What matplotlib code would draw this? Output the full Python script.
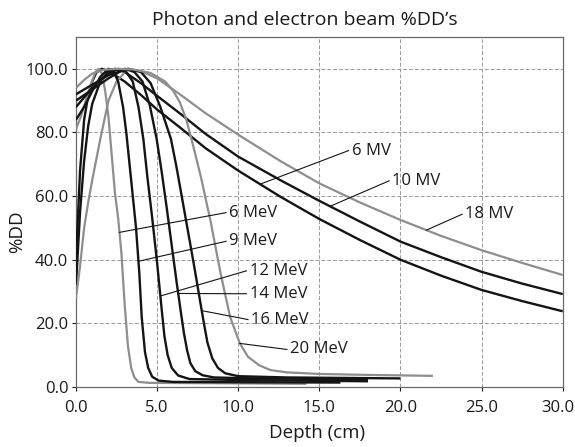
import numpy as np
import matplotlib
matplotlib.use("Agg")
import matplotlib.pyplot as plt
from matplotlib.transforms import ScaledTranslation

plt.rcParams["font.family"] = ["Open Sans", "DejaVu Sans"]

BLACK = "#141414"
GREY = "#8e8e8e"

# photon beams: depth (cm), %DD
d_6mv = [0, 0.25, 0.5, 0.75, 1.0, 1.25, 1.6, 2.0, 3.0, 4.0, 5.0, 6.4, 8.0, 10.0,
         12.6, 15.0, 17.5, 20.0, 22.5, 25.0, 27.5, 30.0]
p_6mv = [40, 68, 84, 91.5, 96, 98.8, 100, 99.3, 96, 91.8, 87.2, 81.6, 75, 68,
         59.8, 52.8, 46.2, 40, 35, 30.5, 27, 23.8]

d_10mv = [0, 0.25, 0.5, 0.75, 1.0, 1.5, 2.0, 2.4, 3.0, 4.0, 5.0, 6.4, 8.0, 10.0,
          12.6, 15.0, 17.5, 20.0, 22.5, 25.0, 27.5, 30.0]
p_10mv = [32, 55, 71, 82, 89, 96, 99.3, 100, 99, 95.5, 91.5, 86, 79.5, 72.4,
          65, 58.5, 52, 45.7, 40.8, 36.2, 32.5, 29.2]

d_18mv = [0, 0.25, 0.5, 0.75, 1.0, 1.5, 2.0, 2.5, 3.2, 4.0, 5.0, 6.4, 8.0, 10.0,
          12.6, 15.0, 17.5, 20.0, 22.5, 25.0, 27.5, 30.0]
p_18mv = [28, 38, 50, 58, 65, 78, 90, 96, 100, 99.3, 97, 92, 86, 79.3,
          71, 64, 58, 52.5, 47.5, 43, 39, 35.2]

# electron beams
d_6mev = [0, 0.3, 0.6, 0.9, 1.2, 1.4, 1.6, 1.8, 2.0, 2.2, 2.4, 2.6, 2.8, 3.0,
          3.2, 3.4, 3.6, 3.85, 4.5, 8.0, 14.2]
p_6mev = [81, 85, 90, 95, 99, 100, 98.5, 93, 85, 73, 61, 53, 42, 26,
          13, 6, 3, 1.6, 1.3, 1.2, 1.0]

d_9mev = [0, 0.5, 1.0, 1.5, 2.0, 2.3, 2.6, 2.9, 3.1, 3.3, 3.5, 3.7, 3.9, 4.05,
          4.25, 4.45, 4.7, 5.1, 6.0, 10.0, 16.3]
p_9mev = [84, 88, 93, 97.5, 100, 99.5, 96, 88, 80, 70, 60, 50, 36, 22,
          11, 6, 3.2, 2.0, 1.6, 1.5, 1.4]

d_12mev = [0, 0.5, 1.0, 1.5, 2.0, 2.6, 3.1, 3.5, 3.85, 4.15, 4.4, 4.7, 5.0,
           5.25, 5.45, 5.65, 5.9, 6.3, 7.0, 10.0, 18.0]
p_12mev = [88, 91, 94, 96.5, 98.5, 100, 99, 96, 88, 78, 66, 53, 39,
           26, 16, 10, 6, 3.6, 2.5, 2.2, 1.8]

d_14mev = [0, 1.0, 2.0, 3.0, 3.6, 4.1, 4.55, 4.97, 5.3, 5.6, 5.9, 6.2, 6.45,
           6.65, 6.85, 7.05, 7.35, 7.8, 8.5, 11.0, 18.0]
p_14mev = [90, 93.5, 97, 100, 99, 96, 88.5, 78, 67, 56, 44.5, 33, 24,
           17, 11.5, 7.5, 5, 3.7, 3.0, 2.7, 2.4]

d_16mev = [0, 1.0, 2.0, 3.2, 4.0, 4.6, 5.2, 5.85, 6.2, 6.55, 6.9, 7.25, 7.55,
           7.85, 8.1, 8.4, 8.75, 9.2, 10.0, 13.0, 20.0]
p_16mev = [92, 95, 98, 100, 99, 95.5, 88, 78, 69, 59, 49, 39, 30,
           21, 14, 9, 6, 4.3, 3.4, 3.0, 2.7]

d_20mev = [0, 0.5, 1.0, 1.7, 2.5, 3.5, 4.6, 5.5, 6.0, 6.4, 6.8, 7.13, 7.7, 8.3,
           8.9, 9.5, 10.1, 10.6, 11.3, 12.0, 13.0, 15.0, 18.0, 22.0]
p_20mev = [94, 96.5, 98.5, 99.7, 100, 99.8, 98.7, 96, 93, 89.5, 84, 77.7, 66, 52,
           36, 22, 13.7, 9.5, 6.8, 5.3, 4.6, 4.1, 3.8, 3.5]

curves = [
    (d_6mv, p_6mv, BLACK), (d_10mv, p_10mv, BLACK), (d_18mv, p_18mv, GREY),
    (d_6mev, p_6mev, GREY), (d_9mev, p_9mev, BLACK), (d_12mev, p_12mev, BLACK),
    (d_14mev, p_14mev, BLACK), (d_16mev, p_16mev, BLACK), (d_20mev, p_20mev, GREY),
]

# labels: text, text anchor (left, middle), depth where the leader meets the curve
labels = ["6 MV", "10 MV", "18 MV", "6 MeV", "9 MeV", "12 MeV", "14 MeV", "16 MeV", "20 MeV"]
label_x = [17.0, 19.5, 24.0, 9.45, 9.45, 10.7, 10.7, 10.8, 13.2]
label_y = [74.3, 64.8, 54.3, 54.8, 45.8, 36.5, 29.3, 21.2, 11.8]
leader_depth = [11.35, 15.66, 21.6, 2.68, 3.85, 5.2, 6.3, 7.75, 10.1]

fig = plt.figure(figsize=(5.75, 4.47), dpi=100)
ax = fig.add_axes([76 / 575, 60 / 447, 486.7 / 575, 350 / 447])

for d, p, c in curves:
    ax.plot(d, p, color=c, lw=1.7 if c == BLACK else 1.6, solid_capstyle="butt", zorder=3)

for (d, p, _), txt, tx, ty, ld in zip(curves, labels, label_x, label_y, leader_depth):
    ax.plot([tx - 0.2, ld], [ty, np.interp(ld, d, p)], color=BLACK, lw=0.8, zorder=4)
    ax.text(tx, ty, txt, ha="left", va="center", fontsize=12, color="#1a1a1a", zorder=5)

ax.set_xlim(0, 30)
ax.set_ylim(0, 110)
ax.set_xticks(np.arange(0, 31, 5))
ax.set_yticks(np.arange(0, 101, 20))
ax.set_xticklabels([f"{v:.1f}" for v in np.arange(0, 31, 5)])
ax.set_yticklabels([f"{v:.1f}" for v in np.arange(0, 101, 20)])
ax.tick_params(axis="both", labelsize=12, colors="#1a1a1a", length=3, width=0.8)
ax.tick_params(axis="x", pad=6)
ax.tick_params(axis="y", pad=2.5)
# keep the last depth label inside the canvas
last = ax.get_xticklabels()[-1]
last.set_transform(last.get_transform() + ScaledTranslation(-5 / 100, 0, fig.dpi_scale_trans))
ax.grid(True, color="#9a9a9a", linestyle=(0, (4, 2)), linewidth=0.7, zorder=0)
for s in ax.spines.values():
    s.set_color("#6a6a6a")
    s.set_linewidth(0.9)

fig.text(305 / 575, 1 - 20 / 447, "Photon and electron beam %DD\u2019s",
         ha="center", va="center", fontsize=14, color="#1a1a1a")
fig.text(17 / 575, 1 - 232 / 447, "%DD", rotation=90,
         ha="center", va="center", fontsize=13.5, color="#1a1a1a")
fig.text(317 / 575, 1 - 433 / 447, "Depth (cm)",
         ha="center", va="center", fontsize=13.5, color="#1a1a1a")

fig.savefig("out.png", dpi=100)
